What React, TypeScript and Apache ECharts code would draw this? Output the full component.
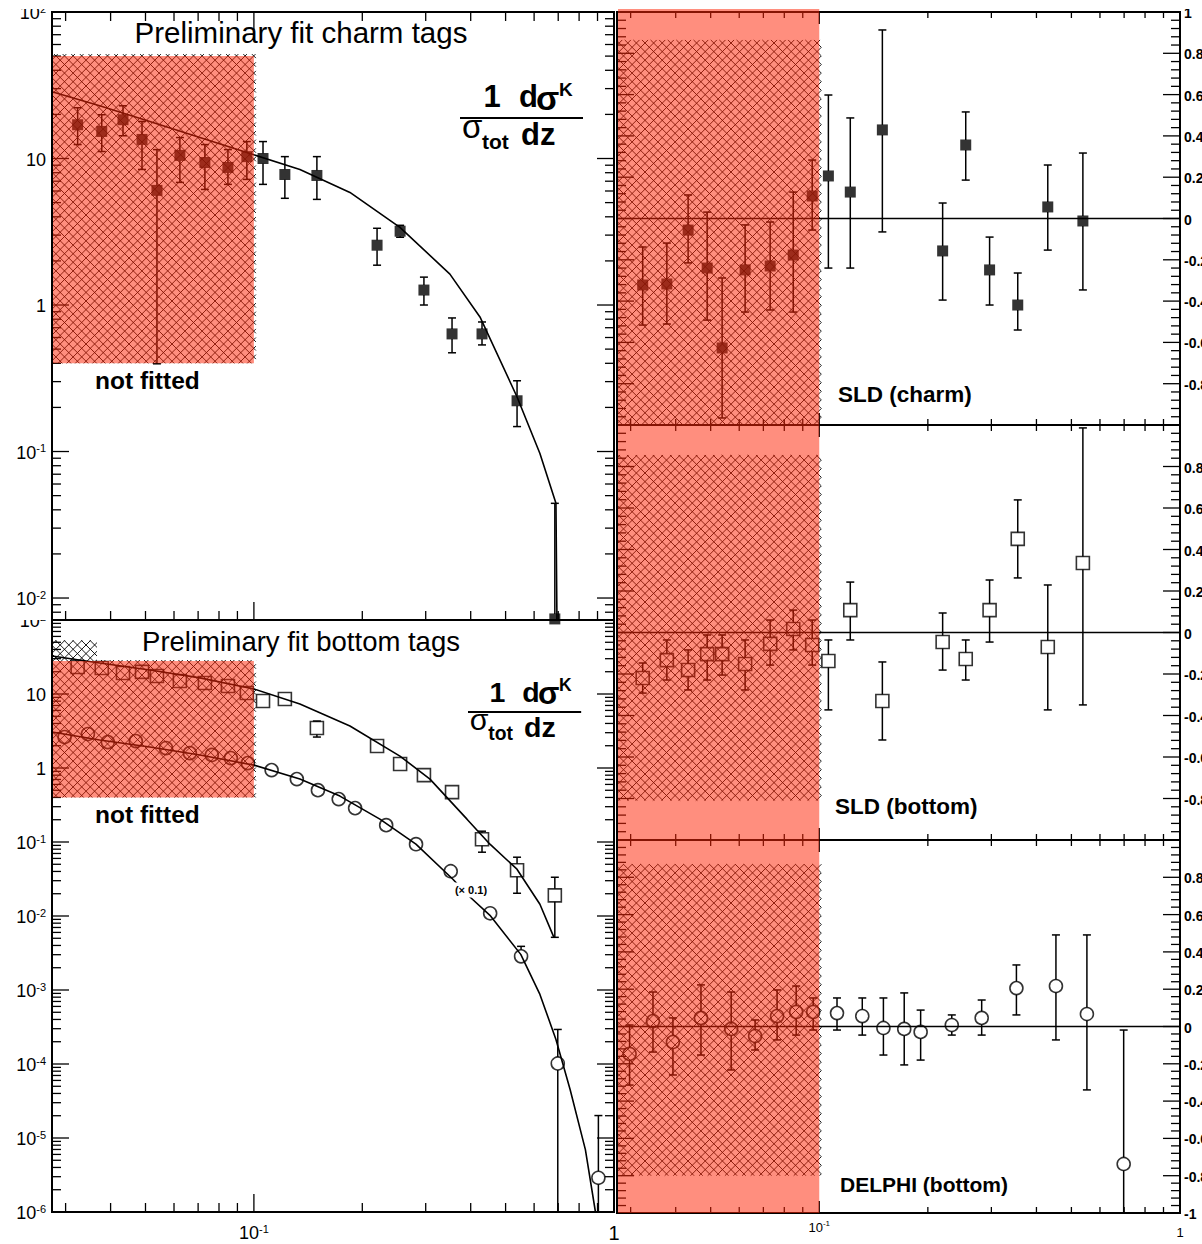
import React, { useEffect, useRef } from "react";
import * as echarts from "echarts";

const FONT = "'Liberation Sans', Arial, Helvetica, sans-serif";

// ---- z bin centres ---------------------------------------------------------
const sldZ = [0.0324, 0.0378, 0.0433, 0.0489, 0.0538, 0.0623, 0.0731, 0.0847, 0.0956, 0.106, 0.1219, 0.1496, 0.2198, 0.2547, 0.2966, 0.355, 0.43, 0.538, 0.685];
const delphiZ = [0.0298, 0.0346, 0.0393, 0.047, 0.057, 0.0664, 0.0764, 0.0863, 0.0962, 0.112, 0.1316, 0.1506, 0.172, 0.191, 0.233, 0.282, 0.352, 0.453, 0.552, 0.698, 0.905];

// ---- SLD charm tags: 1/sigma dsigma/dz -------------------------------------
const charmVal = [17.0, 15.3, 18.4, 13.5, 6.06, 10.5, 9.39, 8.69, 10.3, 10.0, 7.78, 7.66, 2.56, 3.19, 1.265, 0.635, 0.635, 0.222, 0.0072];
const charmHi = [22.2, 19.9, 22.9, 17.9, 11.5, 13.9, 12.45, 11.5, 13.05, 13.05, 10.3, 10.3, 3.34, 3.5, 1.55, 0.816, 0.766, 0.304, 0.0443];
const charmLo = [12.45, 11.16, 14.3, 8.42, 0.397, 6.87, 6.15, 6.66, 7.2, 6.66, 5.35, 5.26, 1.87, 2.9, 1.0, 0.472, 0.534, 0.148, 0.0071];

// ---- SLD bottom tags -------------------------------------------------------
const bSldVal = [23.2, 22.5, 19.2, 19.9, 17.5, 15.0, 14.1, 12.8, 10.3, 8.04, 8.56, 3.47, 1.98, 1.13, 0.8, 0.472, 0.109, 0.0415, 0.019];
const bSldHi = [24.0, 23.3, 19.9, 20.6, 18.1, 15.5, 14.6, 13.2, 10.7, 8.3, 8.86, 4.31, 2.05, 1.17, 0.83, 0.49, 0.14, 0.0623, 0.0334];
const bSldLo = [22.4, 21.7, 18.5, 19.2, 16.9, 14.5, 13.6, 12.4, 9.9, 7.78, 8.26, 2.62, 1.91, 1.09, 0.77, 0.455, 0.0728, 0.0203, 0.00515];

// ---- DELPHI bottom tags (scaled by 0.1) ------------------------------------
const bDelVal = [2.62, 2.88, 2.24, 2.31, 1.86, 1.59, 1.5, 1.36, 1.165, 0.937, 0.708, 0.502, 0.38, 0.287, 0.169, 0.0934, 0.0403, 0.01088, 0.00285, 1.016e-4, 2.9e-6];
const bDelHi = [2.7, 2.97, 2.31, 2.38, 1.92, 1.64, 1.55, 1.4, 1.2, 0.965, 0.73, 0.517, 0.392, 0.296, 0.174, 0.0962, 0.0415, 0.0113, 0.00389, 2.93e-4, 2.01e-5];
const bDelLo = [2.54, 2.79, 2.17, 2.24, 1.8, 1.54, 1.45, 1.32, 1.13, 0.909, 0.687, 0.487, 0.369, 0.278, 0.164, 0.0906, 0.0391, 0.01055, 0.00236, 1e-6, 1e-6];

// ---- fit curves ------------------------------------------------------------
const charmFitZ = [0.0275, 0.0373, 0.0514, 0.0708, 0.1, 0.1342, 0.1848, 0.2544, 0.3502, 0.4244, 0.5377, 0.6227, 0.6899, 0.6943];
const charmFitV = [28.6, 22.9, 17.9, 13.9, 10.6, 8.42, 5.87, 3.39, 1.625, 0.829, 0.2366, 0.0969, 0.0443, 0.0071];
const bSldFitZ = [0.0275, 0.0373, 0.0514, 0.0708, 0.1, 0.1342, 0.1848, 0.2544, 0.3083, 0.3906, 0.4524, 0.5377, 0.6227, 0.681];
const bSldFitV = [32.7, 26.3, 21.1, 16.5, 11.7, 7.32, 3.69, 1.449, 0.708, 0.2035, 0.0934, 0.0429, 0.0144, 0.00515];
const bDelFitZ = [0.0275, 0.0373, 0.0514, 0.0708, 0.1, 0.1342, 0.1733, 0.2238, 0.2818, 0.357, 0.3906, 0.4524, 0.5509, 0.6227, 0.6899, 0.7553, 0.8328, 0.8882];
const bDelFitV = [3.06, 2.385, 1.918, 1.495, 1.094, 0.708, 0.417, 0.2035, 0.0934, 0.0314, 0.01966, 0.01022, 0.00303, 8.72e-4, 2.146e-4, 4.52e-5, 6.97e-6, 1e-6];

// ---- (data - fit) / fit residuals ------------------------------------------
const resCharmVal = [-0.322, -0.317, -0.056, -0.24, -0.627, -0.249, -0.23, -0.177, 0.109, 0.206, 0.128, 0.429, -0.157, 0.356, -0.249, -0.419, 0.056, -0.012];
const resCharmHi = [-0.138, -0.119, 0.114, 0.031, -0.288, -0.031, -0.017, 0.128, 0.283, 0.598, 0.487, 0.913, 0.075, 0.516, -0.09, -0.264, 0.259, 0.317];
const resCharmLo = [-0.516, -0.511, -0.215, -0.492, -0.966, -0.453, -0.443, -0.453, -0.056, -0.24, -0.24, -0.065, -0.395, 0.186, -0.419, -0.54, -0.153, -0.346];

const resBSldVal = [-0.219, -0.133, -0.181, -0.104, -0.104, -0.152, -0.055, 0.017, -0.06, -0.137, 0.108, -0.33, -0.046, -0.128, 0.108, 0.451, -0.07, 0.335];
const resBSldHi = [-0.147, -0.036, -0.084, -0.012, -0.012, -0.036, 0.06, 0.108, 0.06, -0.036, 0.243, -0.142, 0.094, -0.036, 0.253, 0.639, 0.229, 0.986];
const resBSldLo = [-0.292, -0.229, -0.277, -0.229, -0.205, -0.277, -0.157, -0.084, -0.157, -0.373, -0.036, -0.518, -0.181, -0.229, -0.046, 0.263, -0.373, -0.349];

const resDelVal = [-0.147, 0.029, -0.083, 0.046, -0.013, -0.051, 0.056, 0.078, 0.078, 0.072, 0.056, -0.008, -0.013, -0.029, 0.008, 0.046, 0.206, 0.217, 0.067, -0.737];
const resDelHi = [0.008, 0.185, 0.046, 0.223, 0.185, 0.035, 0.196, 0.217, 0.153, 0.153, 0.153, 0.153, 0.18, 0.088, 0.062, 0.142, 0.33, 0.491, 0.491, -0.019];
const resDelLo = [-0.314, -0.137, -0.26, -0.153, -0.233, -0.126, -0.072, -0.046, -0.019, -0.019, -0.046, -0.153, -0.206, -0.18, -0.046, -0.046, 0.062, -0.072, -0.34, -1.0];

// ---- unfitted low-z region [zMin, zMax, yMin, yMax] ------------------------
const hatchTopLeft = [0.0275, 0.1, 0.4, 50];
const shadeTopLeft = [0.0275, 0.1, 0.4, 50];
const hatchBottomLeft = [0.0275, 0.1, 0.4, 50];
const shadeBottomLeft = [0.0275, 0.1, 0.4, 28];
const hatchRight = [
  [0.0275, 0.1, -1, 0.855],
  [0.0275, 0.1, -0.81, 0.846],
  [0.0275, 0.1, -0.8, 0.86],
];
const shadeRight = [0.0275, 0.1, -1, 1];

// ---- axis ticks and labels -------------------------------------------------
const Z_MIN = 0.0275;
const Z_MAX = 1;
const minorMultipliers = [2, 3, 4, 5, 6, 7, 8, 9];
const zMajor = [0.1, 1];
const zDecades = [0.01, 0.1];
const topLeftDecades = [0.01, 0.1, 1, 10, 100];
const topLeftLabels = ["10{s|-2}", "10{s|-1}", "1", "10", "10{s|2}"];
const bottomLeftDecades = [1e-6, 1e-5, 1e-4, 1e-3, 1e-2, 0.1, 1, 10, 100];
const bottomLeftLabels = ["10{s|-6}", "10{s|-5}", "10{s|-4}", "10{s|-3}", "10{s|-2}", "10{s|-1}", "1", "10", "10{s|2}"];
const zLabels = ["10{s|-1}", "1"];
const ratioMajor = [-1, -0.8, -0.6, -0.4, -0.2, 0, 0.2, 0.4, 0.6, 0.8, 1];
const ratioLabelsTop = ["", "-0.8", "-0.6", "-0.4", "-0.2", "0", "0.2", "0.4", "0.6", "0.8", "1"];
const ratioLabelsMid = ["", "-0.8", "-0.6", "-0.4", "-0.2", "0", "0.2", "0.4", "0.6", "0.8", ""];
const ratioLabelsBottom = ["-1", "-0.8", "-0.6", "-0.4", "-0.2", "0", "0.2", "0.4", "0.6", "0.8", ""];
const ratioMinorStep = 0.04;

function logMinors(decades: number[], lo: number, hi: number) {
  const out: number[] = [];
  decades.forEach((d) => minorMultipliers.forEach((m) => {
    const v = d * m;
    if (v > lo && v < hi) out.push(v);
  }));
  return out;
}

function linMinors(lo: number, hi: number, step: number, majors: number[]) {
  const out: number[] = [];
  const n = Math.round((hi - lo) / step);
  for (let i = 0; i <= n; i++) {
    const v = +(lo + i * step).toFixed(4);
    if (!majors.some((m) => Math.abs(m - v) < 1e-6)) out.push(v);
  }
  return out;
}

// ---- layout ---------------------------------------------------------------
const GRIDS = [
  { left: 52, top: 12, width: 562, height: 608 },
  { left: 52, top: 620, width: 562, height: 592 },
  { left: 617, top: 12, width: 563, height: 413 },
  { left: 617, top: 425, width: 563, height: 415 },
  { left: 617, top: 840, width: 563, height: 373 },
];
const SHADE = "rgba(255, 38, 8, 0.52)";
const HATCH_STEP = 8.6;

const supRich = (sup: number, lift: number) => ({
  s: { fontSize: sup, fontFamily: FONT, fill: "#000", verticalAlign: "top", lineHeight: lift },
});

const line = (x1: number, y1: number, x2: number, y2: number, w = 1.3) => ({
  type: "line",
  shape: { x1, y1, x2, y2 },
  style: { stroke: "#000", lineWidth: w },
});

function tickSeries(gi: number, cfg: any) {
  const data: number[][] = [];
  cfg.xMajor.forEach((v: number, i: number) => data.push([v, cfg.yRef, 0, 1, cfg.xLabels ? i : -1]));
  cfg.xMinor.forEach((v: number) => data.push([v, cfg.yRef, 0, 0, -1]));
  cfg.yMajor.forEach((v: number, i: number) => data.push([cfg.xRef, v, 1, 1, cfg.yLabels ? i : -1]));
  cfg.yMinor.forEach((v: number) => data.push([cfg.xRef, v, 1, 0, -1]));
  return {
    type: "custom",
    xAxisIndex: gi,
    yAxisIndex: gi,
    z: 1,
    silent: true,
    clip: false,
    data,
    renderItem: (params: any, api: any) => {
      const cs = params.coordSys;
      const axis = api.value(2);
      const major = api.value(3) === 1;
      const li = api.value(4);
      const p = api.coord([api.value(0), api.value(1)]);
      const ch: any[] = [];
      if (axis === 0) {
        const L = major ? cfg.len.xMaj : cfg.len.xMin;
        const yb = cs.y + cs.height;
        if (cfg.top) ch.push(line(p[0], cs.y, p[0], cs.y + L));
        if (cfg.bottom) ch.push(line(p[0], yb, p[0], yb - L));
        if (li >= 0 && cfg.xLabels[li]) {
          const xl = cfg.xLabel;
          ch.push({
            type: "text",
            x: p[0],
            y: yb + (li === 0 ? xl.dy0 : xl.dy1),
            style: {
              text: cfg.xLabels[li],
              rich: supRich(xl.sup, xl.lift),
              fontSize: li === 0 ? xl.size : xl.size1,
              lineHeight: xl.size + 2,
              fontFamily: FONT,
              fill: "#000",
              align: "center",
              verticalAlign: "middle",
            },
          });
        }
      } else {
        const L = major ? cfg.len.yMaj : cfg.len.yMin;
        const xr = cs.x + cs.width;
        ch.push(line(cs.x, p[1], cs.x + L, p[1]));
        ch.push(line(xr, p[1], xr - L, p[1]));
        if (li >= 0 && cfg.yLabels[li]) {
          if (cfg.ySide === "left") {
            ch.push({
              type: "text",
              x: cs.x - 6,
              y: p[1] + 1,
              style: {
                text: cfg.yLabels[li],
                rich: supRich(11, 10),
                fontSize: 18,
                lineHeight: 20,
                fontFamily: FONT,
                fill: "#000",
                align: "right",
                verticalAlign: "middle",
              },
            });
          } else {
            ch.push({
              type: "text",
              x: xr + 4,
              y: p[1] + 1,
              style: {
                text: cfg.yLabels[li],
                fontSize: 14,
                fontWeight: "bold",
                fontFamily: FONT,
                fill: "#000",
                align: "left",
                verticalAlign: "middle",
              },
            });
          }
        }
      }
      return { type: "group", children: ch };
    },
  };
}

// Cross-hatched rectangle: two families of 45-degree lines clipped to the box.
function hatchSeries(gi: number, boxes: number[][], pad: number) {
  return {
    type: "custom",
    xAxisIndex: gi,
    yAxisIndex: gi,
    z: 1,
    silent: true,
    clip: false,
    data: boxes,
    renderItem: (_params: any, api: any) => {
      const a = api.coord([api.value(0), api.value(2)]);
      const b = api.coord([api.value(1), api.value(3)]);
      const x0 = Math.min(a[0], b[0]);
      const x1 = Math.max(a[0], b[0]) + pad;
      const y0 = Math.min(a[1], b[1]) - pad;
      const y1 = Math.max(a[1], b[1]);
      const d = HATCH_STEP;
      const ch: any[] = [];
      for (let c = Math.floor((y0 - x1) / d) * d; c <= y1 - x0; c += d) {
        const xa = Math.max(x0, y0 - c);
        const xb = Math.min(x1, y1 - c);
        if (xb > xa) ch.push(line(xa, xa + c, xb, xb + c, 0.9));
      }
      for (let k = Math.floor((x0 + y0) / d) * d; k <= x1 + y1; k += d) {
        const xa = Math.max(x0, k - y1);
        const xb = Math.min(x1, k - y0);
        if (xb > xa) ch.push(line(xa, k - xa, xb, k - xb, 0.9));
      }
      return { type: "group", children: ch };
    },
  };
}

function shadeSeries(gi: number, box: number[], overTop: number) {
  return {
    type: "custom",
    xAxisIndex: gi,
    yAxisIndex: gi,
    z: 6,
    silent: true,
    clip: false,
    data: [box],
    renderItem: (_params: any, api: any) => {
      const a = api.coord([api.value(0), api.value(2)]);
      const b = api.coord([api.value(1), api.value(3)]);
      const x0 = Math.min(a[0], b[0]) + 1;
      const x1 = Math.max(a[0], b[0]);
      const y0 = Math.min(a[1], b[1]) - overTop;
      const y1 = Math.max(a[1], b[1]);
      return {
        type: "rect",
        shape: { x: x0, y: y0, width: x1 - x0, height: y1 - y0 },
        style: { fill: SHADE },
      };
    },
  };
}

function errorSeries(gi: number, xs: number[], vals: number[], lo: number[], hi: number[], gap: number) {
  return {
    type: "custom",
    xAxisIndex: gi,
    yAxisIndex: gi,
    z: 3,
    silent: true,
    clip: false,
    data: vals.map((v, i) => [xs[i], v, lo[i], hi[i]]),
    renderItem: (_params: any, api: any) => {
      const c = api.coord([api.value(0), api.value(1)]);
      const pl = api.coord([api.value(0), api.value(2)]);
      const ph = api.coord([api.value(0), api.value(3)]);
      const ch: any[] = [];
      const cap = 4;
      if (ph[1] < c[1] - gap) {
        ch.push(line(c[0], ph[1], c[0], c[1] - gap, 1.5));
        ch.push(line(c[0] - cap, ph[1], c[0] + cap, ph[1], 1.5));
      }
      if (pl[1] > c[1] + gap) {
        ch.push(line(c[0], c[1] + gap, c[0], pl[1], 1.5));
        ch.push(line(c[0] - cap, pl[1], c[0] + cap, pl[1], 1.5));
      }
      return { type: "group", children: ch };
    },
  };
}

function markerSeries(gi: number, xs: number[], vals: number[], symbol: string, size: number, filled: boolean) {
  return {
    type: "scatter",
    xAxisIndex: gi,
    yAxisIndex: gi,
    z: 4,
    silent: true,
    symbol,
    symbolSize: size,
    itemStyle: filled
      ? { color: "#000", borderWidth: 0 }
      : { color: "rgba(0,0,0,0)", borderColor: "#000", borderWidth: 1.6 },
    data: vals.map((v, i) => [xs[i], v]),
  };
}

function fitSeries(gi: number, zs: number[], vs: number[]) {
  return {
    type: "line",
    xAxisIndex: gi,
    yAxisIndex: gi,
    z: 2,
    silent: true,
    showSymbol: false,
    symbol: "none",
    lineStyle: { color: "#000", width: 1.6 },
    data: zs.map((z, i) => [z, vs[i]]),
  };
}

function zeroLine(gi: number) {
  return fitSeries(gi, [Z_MIN, Z_MAX], [0, 0]);
}

// 1/sigma_tot dsigma^K/dz, laid out relative to the fraction bar
function formula(x0: number, yBar: number, s: number) {
  const t = (text: string, x: number, y: number, size: number, bold: boolean, align = "left") => ({
    type: "text",
    z: 100,
    x: x0 + x * s,
    y: yBar + y * s,
    style: {
      text,
      fontSize: size * s,
      fontWeight: bold ? "bold" : "normal",
      fontFamily: FONT,
      fill: "#000",
      align,
      verticalAlign: "middle",
    },
  });
  return [
    t("1", 32, -21.5, 31, true, "center"),
    t("d", 59, -21.5, 31, true),
    t("σ", 76, -20.5, 34, true),
    t("K", 99, -29, 19, true),
    {
      type: "line",
      z: 100,
      shape: { x1: x0, y1: yBar, x2: x0 + 123 * s, y2: yBar },
      style: { stroke: "#000", lineWidth: 2.2 },
    },
    t("σ", 2, 8.5, 33, false),
    t("tot", 22, 23, 21, true),
    t("dz", 61, 16.5, 31, true),
  ];
}

const textEl = (text: string, x: number, y: number, size: number, bold: boolean, align = "left", extra: any = {}) => ({
  type: "text",
  z: 100,
  x,
  y,
  style: {
    text,
    fontSize: size,
    fontWeight: bold ? "bold" : "normal",
    fontFamily: FONT,
    fill: "#000",
    align,
    verticalAlign: "middle",
    ...extra,
  },
});

function buildOption() {
  const topMin = Math.pow(10, -2.15);
  const leftLen = { xMaj: 18, xMin: 9, yMaj: 17, yMin: 9 };
  const rightLen = { xMaj: 12, xMin: 6, yMaj: 17, yMin: 9 };
  const zMinor = logMinors(zDecades, Z_MIN, Z_MAX);
  const ratioMinor = linMinors(-1, 1, ratioMinorStep, ratioMajor);

  const leftXLabel = { size: 18, size1: 20, sup: 11, lift: 10, dy0: 21, dy1: 21 };
  const rightXLabel = { size: 13, size1: 13, sup: 8, lift: 8, dy0: 14, dy1: 19 };

  const grid = GRIDS.map((g) => ({
    ...g,
    show: true,
    borderColor: "#000",
    borderWidth: 2,
    backgroundColor: "transparent",
    containLabel: false,
    outerBoundsMode: "none",
  }));
  const xAxis = GRIDS.map((_, i) => ({
    type: "log",
    logBase: 10,
    gridIndex: i,
    min: Z_MIN,
    max: Z_MAX,
    show: false,
  }));
  const yAxis = [
    { type: "log", logBase: 10, gridIndex: 0, min: topMin, max: 100, show: false },
    { type: "log", logBase: 10, gridIndex: 1, min: 1e-6, max: 100, show: false },
    { type: "value", gridIndex: 2, min: -1, max: 1, show: false },
    { type: "value", gridIndex: 3, min: -1, max: 1, show: false },
    { type: "value", gridIndex: 4, min: -1, max: 1, show: false },
  ];

  const series: any[] = [
    // top-left: charm tags
    tickSeries(0, {
      xMajor: zMajor, xMinor: zMinor, yMajor: topLeftDecades, yMinor: logMinors([0.001, 0.01, 0.1, 1, 10], topMin, 100),
      xRef: 0.1, yRef: 1, top: true, bottom: true, len: leftLen, yLabels: topLeftLabels, ySide: "left",
    }),
    hatchSeries(0, [hatchTopLeft], 2),
    fitSeries(0, charmFitZ, charmFitV),
    errorSeries(0, sldZ, charmVal, charmLo, charmHi, 5),
    markerSeries(0, sldZ, charmVal, "rect", 11, true),
    shadeSeries(0, shadeTopLeft, 0),

    // bottom-left: bottom tags
    tickSeries(1, {
      xMajor: zMajor, xMinor: zMinor, yMajor: bottomLeftDecades, yMinor: logMinors(bottomLeftDecades, 1e-6, 100),
      xRef: 0.1, yRef: 1, top: false, bottom: true, len: leftLen, yLabels: bottomLeftLabels, ySide: "left",
      xLabels: zLabels, xLabel: leftXLabel,
    }),
    hatchSeries(1, [hatchBottomLeft], 2),
    fitSeries(1, bSldFitZ, bSldFitV),
    fitSeries(1, bDelFitZ, bDelFitV),
    errorSeries(1, sldZ, bSldVal, bSldLo, bSldHi, 6.5),
    errorSeries(1, delphiZ, bDelVal, bDelLo, bDelHi, 6.5),
    markerSeries(1, sldZ, bSldVal, "rect", 13, false),
    markerSeries(1, delphiZ, bDelVal, "circle", 13, false),
    shadeSeries(1, shadeBottomLeft, 0),
  ];

  const rightPanels = [
    { xs: sldZ, val: resCharmVal, lo: resCharmLo, hi: resCharmHi, symbol: "rect", size: 11, filled: true, labels: ratioLabelsTop, over: 3 },
    { xs: sldZ, val: resBSldVal, lo: resBSldLo, hi: resBSldHi, symbol: "rect", size: 13, filled: false, labels: ratioLabelsMid, over: 0 },
    { xs: delphiZ, val: resDelVal, lo: resDelLo, hi: resDelHi, symbol: "circle", size: 13, filled: false, labels: ratioLabelsBottom, over: 0 },
  ];
  rightPanels.forEach((p, k) => {
    const gi = k + 2;
    series.push(
      tickSeries(gi, {
        xMajor: zMajor, xMinor: zMinor, yMajor: ratioMajor, yMinor: ratioMinor,
        xRef: 0.1, yRef: 0, top: true, bottom: true, len: rightLen, yLabels: p.labels, ySide: "right",
        xLabels: gi === 4 ? zLabels : null, xLabel: rightXLabel,
      }),
      hatchSeries(gi, [hatchRight[k]], 2),
      zeroLine(gi),
      errorSeries(gi, p.xs, p.val, p.lo, p.hi, p.filled ? 5 : 6.5),
      markerSeries(gi, p.xs.slice(0, p.val.length), p.val, p.symbol, p.size, p.filled),
      shadeSeries(gi, shadeRight, p.over)
    );
  });

  const graphic: any[] = [
    // area above the pads is outside every frame
    { type: "rect", z: 90, shape: { x: 0, y: 0, width: 1202, height: 9 }, style: { fill: "#fff" } },
    { type: "rect", z: 90, shape: { x: 0, y: 609, width: 49, height: 11 }, style: { fill: "#fff" } },
    // title box of the lower-left pad
    { type: "rect", z: 50, shape: { x: 97, y: 623, width: 410, height: 37 }, style: { fill: "#fff" } },
    textEl("Preliminary fit charm tags", 301, 32, 29.5, false, "center"),
    textEl("Preliminary fit bottom tags", 301, 641, 27.5, false, "center"),
    textEl("not fitted", 95, 380, 24.5, true),
    textEl("not fitted", 95, 814, 24.5, true),
    textEl("(× 0.1)", 471, 890, 11, true, "center", { backgroundColor: "#fff", padding: [2, 1] }),
    textEl("SLD (charm)", 838, 394, 22.5, true),
    textEl("SLD (bottom)", 835, 806, 22.5, true),
    textEl("DELPHI (bottom)", 840, 1184, 21, true),
    ...formula(460, 118, 1),
    ...formula(468, 712, 0.92),
  ];

  return {
    animation: false,
    backgroundColor: "#fff",
    grid,
    xAxis,
    yAxis,
    series,
    graphic,
  };
}

export default function App() {
  const ref = useRef<HTMLDivElement>(null);
  useEffect(() => {
    if (!ref.current) return;
    const chart = echarts.init(ref.current, null, { renderer: "svg" });
    chart.setOption(buildOption() as any);
    return () => chart.dispose();
  }, []);
  return (
    <div
      ref={ref}
      style={{ position: "absolute", left: 0, top: 0, width: 1202, height: 1244, background: "#fff" }}
    />
  );
}
